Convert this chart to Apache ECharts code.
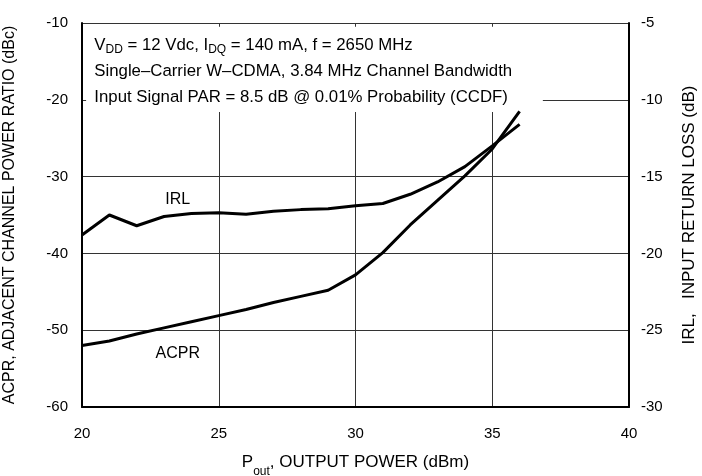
<!DOCTYPE html>
<html><head><meta charset="utf-8">
<script src="https://cdn.jsdelivr.net/npm/echarts@6/dist/echarts.min.js"></script>
<style>html,body{margin:0;padding:0;background:#fff}#c{width:702px;height:476px}</style>
</head><body><div id="c"></div>
<script>
var pout = [20,21,22,23,24,25,26,27,28,29,30,31,32,33,34,35,36];
var acpr = [-52.0,-51.4,-50.5,-49.7,-48.9,-48.1,-47.3,-46.4,-45.6,-44.8,-42.8,-39.9,-36.3,-33.1,-29.9,-26.4,-21.5];
var irl  = [-18.8,-17.5,-18.2,-17.6,-17.4,-17.35,-17.45,-17.25,-17.15,-17.1,-16.9,-16.75,-16.15,-15.35,-14.35,-13.0,-11.6];
var annotLines = [
  '{n|V}{s|DD}{n| = 12 Vdc, I}{s|DQ}{n| = 140 mA, f = 2650 MHz}',
  '{n|Single\u2013Carrier W\u2013CDMA, 3.84 MHz Channel Bandwidth}',
  '{n|Input Signal PAR = 8.5 dB @ 0.01% Probability (CCDF)}'
];
var FONT = "'Liberation Sans',Arial,Helvetica,sans-serif";
var chart = echarts.init(document.getElementById('c'));
function pairs(xs, ys){ return xs.map(function(x,i){return [x, ys[i]];}); }
var axisLbl = {color:'#000', fontSize:15, fontFamily:FONT};
chart.setOption({
  animation:false,
  grid:{left:82, right:73, top:23, bottom:69, containLabel:false, outerBoundsMode:'none'},
  xAxis:{type:'value', min:20, max:40, interval:5,
    axisLine:{lineStyle:{color:'#000', width:2}},
    axisTick:{show:false},
    axisLabel:Object.assign({margin:19}, axisLbl),
    splitLine:{show:true, lineStyle:{color:'#333', width:1}},
    name:'{n|P}{s|out}{n|, OUTPUT POWER (dBm)}', nameLocation:'middle', nameGap:47,
    nameTextStyle:{rich:{n:{fontSize:17, fontFamily:FONT, color:'#000'}, s:{fontSize:12, fontFamily:FONT, color:'#000', verticalAlign:'bottom', padding:[0,0,-7,0]}}}
  },
  yAxis:[
    {type:'value', min:-60, max:-10, interval:10,
     axisLine:{show:true, lineStyle:{color:'#000', width:2}},
     axisTick:{show:false},
     axisLabel:Object.assign({margin:14}, axisLbl),
     splitLine:{show:true, lineStyle:{color:'#333', width:1}},
     name:'ACPR, ADJACENT CHANNEL POWER RATIO (dBc)', nameLocation:'middle', nameGap:64,
     nameTextStyle:{fontSize:16, fontFamily:FONT, color:'#000'}
    },
    {type:'value', min:-30, max:-5, interval:5, position:'right',
     axisLine:{show:true, lineStyle:{color:'#000', width:2}},
     axisTick:{show:false},
     axisLabel:Object.assign({margin:12}, axisLbl),
     splitLine:{show:false},
     name:'IRL,   INPUT RETURN LOSS (dB)', nameLocation:'middle', nameGap:52, nameRotate:90,
     nameTextStyle:{fontSize:17, fontFamily:FONT, color:'#000'}
    }
  ],
  series:[
    {name:'ACPR', type:'line', yAxisIndex:0, data:pairs(pout, acpr), symbol:'none', z:5,
     lineStyle:{color:'#000', width:3}},
    {name:'IRL', type:'line', yAxisIndex:1, data:pairs(pout, irl), symbol:'none', z:5,
     lineStyle:{color:'#000', width:3}}
  ]
});
var tl = chart.convertToPixel({xAxisIndex:0, yAxisIndex:0}, [20.15, -10.5]);
var br = chart.convertToPixel({xAxisIndex:0, yAxisIndex:0}, [36.85, -21.6]);
var irlPos = chart.convertToPixel({xAxisIndex:0, yAxisIndex:1}, [23.5, -16.5]);
var acprPos = chart.convertToPixel({xAxisIndex:0, yAxisIndex:0}, [23.5, -53.0]);
var g = [
  {type:'rect', shape:{x:tl[0], y:tl[1], width:br[0]-tl[0], height:br[1]-tl[1]}, style:{fill:'#fff'}, z:1},
  {type:'text', x:irlPos[0], y:irlPos[1], style:{text:'IRL', fontSize:16, fontFamily:FONT, fill:'#000', align:'center', verticalAlign:'middle'}, z:3},
  {type:'text', x:acprPos[0], y:acprPos[1], style:{text:'ACPR', fontSize:16, fontFamily:FONT, fill:'#000', align:'center', verticalAlign:'middle'}, z:3}
];
annotLines.forEach(function(t, i){
  var p = chart.convertToPixel({xAxisIndex:0, yAxisIndex:0}, [20.45, -12.95 - i*3.39]);
  g.push({type:'text', x:p[0], y:p[1], z:3, style:{text:t, align:'left', verticalAlign:'middle',
    rich:{n:{fontSize:16.8, fontFamily:FONT, fill:'#000'}, s:{fontSize:12, fontFamily:FONT, fill:'#000', padding:[9,0,0,0]}}}});
});
chart.setOption({graphic:g});
</script>
</body></html>
